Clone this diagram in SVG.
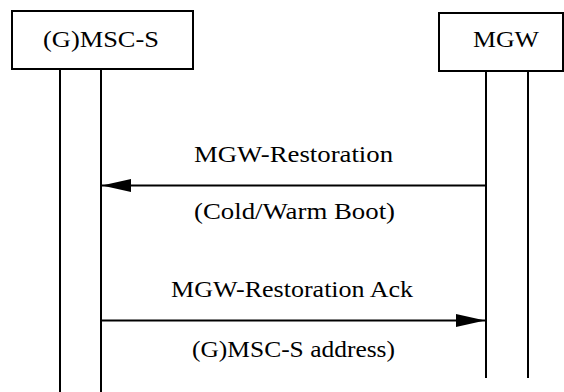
<svg xmlns="http://www.w3.org/2000/svg" width="564" height="392" viewBox="0 0 564 392">
<style>
.box{fill:#fff;stroke:#000;stroke-width:2}
.life{stroke:#000;stroke-width:2;fill:none}
.msg{stroke:#000;stroke-width:2;fill:none}
text{font-family:"Liberation Serif","Times New Roman","DejaVu Serif",serif;font-size:24px;fill:#000}
</style>
<defs>
<marker id="ah" viewBox="0 0 29 13" refX="29" refY="6.5" markerWidth="29" markerHeight="13" markerUnits="userSpaceOnUse" orient="auto">
<path d="M0,0 L29,6.5 L0,13 Z" fill="#000"/>
</marker>
</defs>
<g id="msc">
<rect class="box" x="12" y="11" width="181" height="58"/>
<text x="43" y="46.5" textLength="116" lengthAdjust="spacingAndGlyphs">(G)MSC-S</text>
<line class="life" x1="60" y1="69" x2="60" y2="392"/>
<line class="life" x1="101" y1="69" x2="101" y2="392"/>
</g>
<g id="mgw">
<rect class="box" x="439" y="13" width="124" height="58"/>
<text x="473" y="46.5" textLength="66" lengthAdjust="spacingAndGlyphs">MGW</text>
<line class="life" x1="486" y1="71" x2="486" y2="378"/>
<line class="life" x1="528" y1="71" x2="528" y2="378"/>
</g>
<g id="connectors">
<line class="msg" x1="486" y1="185.5" x2="102" y2="185.5" marker-end="url(#ah)"/>
<line class="msg" x1="101" y1="320.5" x2="485" y2="320.5" marker-end="url(#ah)"/>
</g>
<g id="labels">
<text x="194" y="162" textLength="199" lengthAdjust="spacingAndGlyphs">MGW-Restoration</text>
<text x="194" y="219" textLength="201" lengthAdjust="spacingAndGlyphs">(Cold/Warm Boot)</text>
<text x="171" y="296.5" textLength="242" lengthAdjust="spacingAndGlyphs">MGW-Restoration Ack</text>
<text x="192" y="357" textLength="203" lengthAdjust="spacingAndGlyphs">(G)MSC-S address)</text>
</g>
</svg>
